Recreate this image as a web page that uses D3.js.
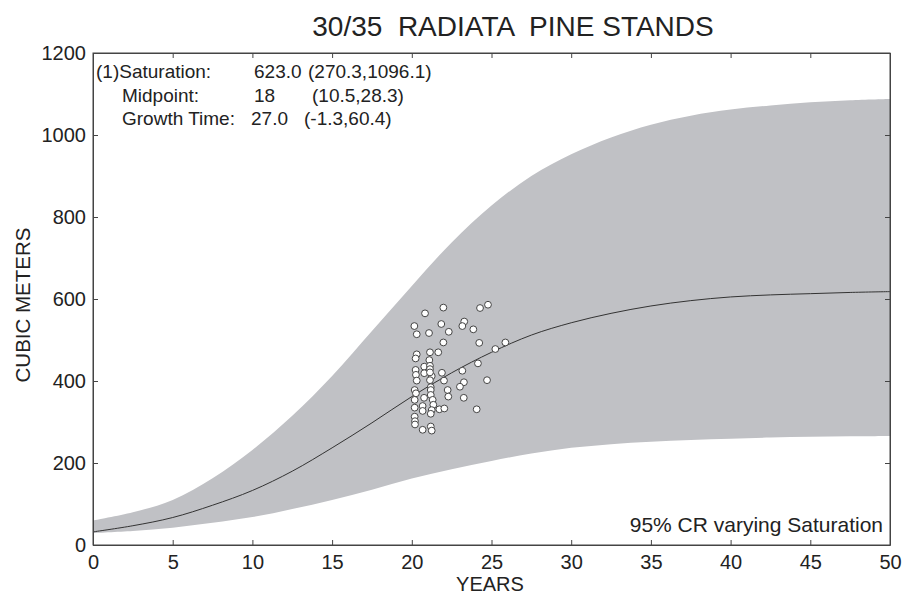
<!DOCTYPE html>
<html>
<head>
<meta charset="utf-8">
<script src="https://cdnjs.cloudflare.com/ajax/libs/d3/7.8.5/d3.min.js"></script>
<style>
  html, body { margin: 0; padding: 0; background: #fff; }
  svg { display: block; }
  text { font-family: "Liberation Sans", Arial, sans-serif; fill: #222; white-space: pre; }
</style>
</head>
<body>
<svg id="chart" width="904" height="599"></svg>
<script>
// ---- data ----
const years      = [0, 2.5, 5, 7.5, 10, 12.5, 15, 17.5, 20, 22.5, 25, 27.5, 30, 32.5, 35, 37.5, 40, 42.5, 45, 47.5, 50];
const fitValues  = [32, 47, 67, 97, 133, 180, 237, 298, 362, 420, 470, 512, 542, 565, 583, 596, 605, 610, 613, 616, 618];
const upperBand  = [60, 80, 110, 163, 232, 315, 412, 522, 632, 738, 828, 900, 953, 994, 1025, 1047, 1062, 1072, 1080, 1085, 1088];
const lowerBand  = [29, 34, 42, 54, 68, 88, 110, 135, 162, 185, 205, 223, 237, 246, 252, 256, 259, 262, 264, 265, 266];

const obsYears = [21.98, 24.78, 24.28, 20.83, 20.16, 21.85, 23.29, 23.17, 23.86, 20.31, 21.08, 22.32, 21.98, 24.23, 25.87, 25.24,
  20.31, 20.24, 21.14, 21.66, 21.10, 24.15, 20.78, 21.14, 21.10, 20.24, 21.89, 23.17, 20.26, 20.78, 21.25, 22.02,
  20.31, 21.14, 24.72, 23.27, 23.02, 21.19, 20.18, 21.19, 22.25, 20.26, 21.19, 22.29, 20.77, 23.26, 20.18, 21.31,
  21.35, 20.68, 20.18, 21.73, 22.04, 20.68, 21.25, 24.07, 21.19, 20.18, 20.20, 20.20, 20.68, 21.19, 21.25, 21.14, 21.14];
const obsVolume = [579, 586, 578, 565, 534, 539, 545, 534, 526, 514, 517, 520, 494, 493, 494, 478,
  465, 455, 470, 470, 451, 443, 435, 437, 427, 427, 420, 425, 415, 419, 412, 401,
  401, 402, 402, 397, 386, 385, 378, 378, 378, 370, 366, 362, 359, 359, 354, 354,
  342, 339, 335, 331, 333, 327, 329, 331, 320, 313, 302, 294, 281, 289, 279, 429, 421];

const xTicks = [0, 5, 10, 15, 20, 25, 30, 35, 40, 45, 50];
const yTicks = [0, 200, 400, 600, 800, 1000, 1200];

const titleText = "30/35  RADIATA  PINE STANDS";
const xLabel = "YEARS";
const yLabel = "CUBIC METERS";
const noteLabels = ["(1)Saturation:", "Midpoint:", "Growth Time:"];
const noteValues = ["623.0", "18", "27.0"];
const noteRanges = ["(270.3,1096.1)", "(10.5,28.3)", "(-1.3,60.4)"];
const crLabel = "95% CR varying Saturation";

// ---- layout ----
const L = 93, R = 890, T = 53, B = 545;
const svg = d3.select("#chart");
const x = d3.scaleLinear().domain([0, 50]).range([L, R]);
const y = d3.scaleLinear().domain([0, 1200]).range([B, T]);

const rows = years.map((t, i) => ({ t, fit: fitValues[i], lo: lowerBand[i], hi: upperBand[i] }));

// band
svg.append("path")
  .datum(rows)
  .attr("fill", "#c0c1c5")
  .attr("d", d3.area().x(d => x(d.t)).y0(d => y(d.lo)).y1(d => y(d.hi)).curve(d3.curveCatmullRom));

// fitted line
svg.append("path")
  .datum(rows)
  .attr("fill", "none")
  .attr("stroke", "#333")
  .attr("stroke-width", 1)
  .attr("d", d3.line().x(d => x(d.t)).y(d => y(d.fit)).curve(d3.curveCatmullRom));

// observations
svg.append("g").selectAll("circle")
  .data(obsYears.map((t, i) => ({ t, v: obsVolume[i] })))
  .join("circle")
  .attr("cx", d => x(d.t))
  .attr("cy", d => y(d.v))
  .attr("r", 3.4)
  .attr("fill", "#fff")
  .attr("stroke", "#444")
  .attr("stroke-width", 1);

// axes (ticks inward on all four sides)
const tickLen = 5;
const fmt = d3.format("d");
const axB = svg.append("g").attr("transform", `translate(0,${B})`)
  .call(d3.axisBottom(x).tickValues(xTicks).tickFormat(fmt).tickSizeInner(-tickLen).tickSizeOuter(0).tickPadding(10));
const axT = svg.append("g").attr("transform", `translate(0,${T})`)
  .call(d3.axisTop(x).tickValues(xTicks).tickSizeInner(-tickLen).tickSizeOuter(0).tickFormat(""));
const axL = svg.append("g").attr("transform", `translate(${L},0)`)
  .call(d3.axisLeft(y).tickValues(yTicks).tickFormat(fmt).tickSizeInner(-tickLen).tickSizeOuter(0).tickPadding(7));
const axR = svg.append("g").attr("transform", `translate(${R},0)`)
  .call(d3.axisRight(y).tickValues(yTicks).tickSizeInner(-tickLen).tickSizeOuter(0).tickFormat(""));

[axB, axT, axL, axR].forEach(g => {
  g.selectAll("path.domain").attr("stroke", "#444");
  g.selectAll(".tick line").attr("stroke", "#444");
  g.selectAll(".tick text").attr("font-family", "Liberation Sans, Arial, sans-serif")
    .attr("font-size", 20).attr("fill", "#222");
});

// frame
svg.append("rect").attr("x", L).attr("y", T).attr("width", R - L).attr("height", B - T)
  .attr("fill", "none").attr("stroke", "#444").attr("stroke-width", 1);

// title and labels
svg.append("text").attr("x", 513).attr("y", 36).attr("text-anchor", "middle")
  .attr("font-size", 28).text(titleText);
svg.append("text").attr("x", 490).attr("y", 591).attr("text-anchor", "middle")
  .attr("font-size", 20).text(xLabel);
svg.append("text").attr("transform", "translate(30,305) rotate(-90)").attr("text-anchor", "middle")
  .attr("font-size", 20.5).text(yLabel);

// annotation
const noteY = [78, 102, 125];
const noteX = [96, 122, 122];
const valX = [254, 254, 251];
const rangeX = [308, 312, 304];
noteLabels.forEach((s, i) => {
  svg.append("text").attr("x", noteX[i]).attr("y", noteY[i]).attr("font-size", 19).text(s);
  svg.append("text").attr("x", valX[i]).attr("y", noteY[i]).attr("font-size", 19).text(noteValues[i]);
  svg.append("text").attr("x", rangeX[i]).attr("y", noteY[i]).attr("font-size", 19).text(noteRanges[i]);
});

svg.append("text").attr("x", 883).attr("y", 532).attr("text-anchor", "end")
  .attr("font-size", 21).text(crLabel);
</script>
</body>
</html>
